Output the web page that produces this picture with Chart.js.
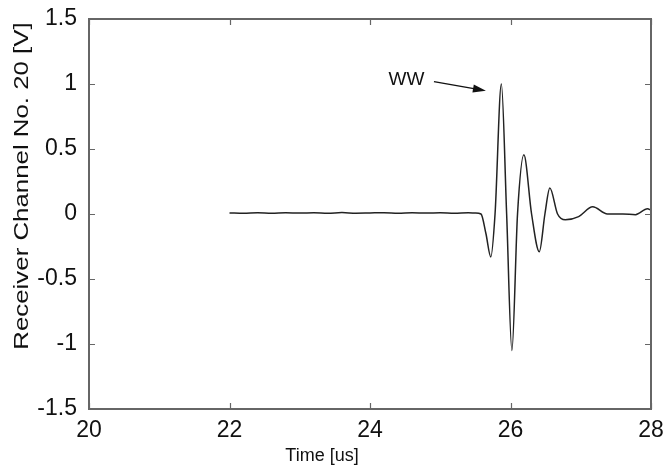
<!DOCTYPE html>
<html>
<head>
<meta charset="utf-8">
<script src="https://cdn.jsdelivr.net/npm/chart.js@4.4.1/dist/chart.umd.min.js"></script>
<style>
  html, body { margin: 0; padding: 0; background: #fff; }
  #wrap { width: 672px; height: 475px; }
</style>
</head>
<body>
<div id="wrap"><canvas id="myChart" width="672" height="475"></canvas></div>
<script>
// time axis [us] and receiver signal [V]
const times = [22.0, 22.2, 22.4, 22.6, 22.8, 23.0, 23.2, 23.4, 23.6, 23.8,
               24.0, 24.2, 24.4, 24.6, 24.8, 25.0, 25.2, 25.4, 25.5, 25.58,
               25.65, 25.72, 25.78, 25.87, 25.945, 26.02, 26.1, 26.19, 26.3, 26.41,
               26.49, 26.56, 26.67, 26.78, 26.97, 27.17, 27.38, 27.6, 27.78, 27.95, 28.0];
const volts = [0.008, 0.005, 0.009, 0.006, 0.010, 0.007, 0.009, 0.005, 0.011, 0.006,
               0.008, 0.010, 0.006, 0.009, 0.007, 0.010, 0.006, 0.009, 0.008, 0.0,
               -0.15, -0.33, 0.0, 1.0, 0.0, -1.05, 0.0, 0.455, 0.0, -0.29,
               0.0, 0.2, 0.0, -0.045, -0.02, 0.055, 0.0, 0.0, -0.005, 0.04, 0.03];
const xTicks = [20, 22, 24, 26, 28];
const yTicks = [-1.5, -1, -0.5, 0, 0.5, 1, 1.5];
const xTitle = 'Time [us]';
const yTitle = 'Receiver Channel No. 20 [V]';

const FAMILY = 'Liberation Sans, Arial, sans-serif';
const tickFont = { family: FAMILY, size: 23, lineHeight: 1 };

// matlab style frame with inward ticks, axis titles and the WW arrow
const framePlugin = {
    id: 'frame',
    afterDraw(chart) {
        const ctx = chart.ctx;
        const a = chart.chartArea;
        const xs = chart.scales.x, ys = chart.scales.y;
        ctx.save();
        ctx.strokeStyle = '#666';
        ctx.lineWidth = 1.2;
        xTicks.forEach(t => {
            const px = Math.round(xs.getPixelForValue(t)) + 0.5;
            ctx.beginPath();
            ctx.moveTo(px, a.bottom); ctx.lineTo(px, a.bottom - 6);
            ctx.moveTo(px, a.top); ctx.lineTo(px, a.top + 6);
            ctx.stroke();
        });
        yTicks.forEach(v => {
            const py = Math.round(ys.getPixelForValue(v)) + 0.5;
            ctx.beginPath();
            ctx.moveTo(a.left, py); ctx.lineTo(a.left + 6, py);
            ctx.moveTo(a.right, py); ctx.lineTo(a.right - 6, py);
            ctx.stroke();
        });
        ctx.lineWidth = 2;
        ctx.strokeRect(a.left, a.top, a.right - a.left, a.bottom - a.top);

        // axis titles (sit off-centre in the original)
        ctx.fillStyle = '#111';
        ctx.textAlign = 'center';
        ctx.textBaseline = 'alphabetic';
        ctx.font = '18px ' + FAMILY;
        ctx.fillText(xTitle, a.left + 233, a.bottom + 52);
        ctx.save();
        ctx.translate(a.left - 67, a.top + 167);
        ctx.rotate(-Math.PI / 2);
        ctx.scale(1.23, 1);
        ctx.font = '21px ' + FAMILY;
        ctx.textBaseline = 'middle';
        ctx.fillText(yTitle, 0, 0);
        ctx.restore();

        // annotation
        ctx.font = '19px ' + FAMILY;
        ctx.textBaseline = 'middle';
        ctx.fillText('WW', xs.getPixelForValue(24.52), ys.getPixelForValue(1.035));
        const x1 = xs.getPixelForValue(24.91), y1 = ys.getPixelForValue(1.018);
        const x2 = xs.getPixelForValue(25.65), y2 = ys.getPixelForValue(0.948);
        const ang = Math.atan2(y2 - y1, x2 - x1);
        ctx.strokeStyle = '#111';
        ctx.lineWidth = 1.3;
        ctx.beginPath();
        ctx.moveTo(x1, y1); ctx.lineTo(x2 - 8 * Math.cos(ang), y2 - 8 * Math.sin(ang));
        ctx.stroke();
        ctx.beginPath();
        ctx.moveTo(x2, y2);
        ctx.lineTo(x2 - 13 * Math.cos(ang) + 4 * Math.sin(ang), y2 - 13 * Math.sin(ang) - 4 * Math.cos(ang));
        ctx.lineTo(x2 - 13 * Math.cos(ang) - 4 * Math.sin(ang), y2 - 13 * Math.sin(ang) + 4 * Math.cos(ang));
        ctx.closePath();
        ctx.fill();
        ctx.restore();
    }
};

const ctx = document.getElementById('myChart').getContext('2d');
const myChart = new Chart(ctx, {
    type: 'line',
    data: {
        datasets: [{
            data: times.map((t, i) => ({ x: t, y: volts[i] })),
            borderColor: '#222',
            borderWidth: 1.5,
            pointRadius: 0,
            cubicInterpolationMode: 'monotone',
            fill: false
        }]
    },
    options: {
        responsive: false,
        animation: false,
        layout: { padding: { top: 19, right: 21, left: 0, bottom: 0 } },
        plugins: {
            legend: { display: false },
            tooltip: { enabled: false }
        },
        scales: {
            x: {
                type: 'linear',
                min: 20, max: 28,
                afterBuildTicks: s => { s.ticks = xTicks.map(v => ({ value: v })); },
                afterFit: s => { s.height = 66; },
                grid: { display: false },
                border: { display: false },
                ticks: { color: '#111', font: tickFont, padding: 2, maxRotation: 0,
                         callback: v => String(v) }
            },
            y: {
                min: -1.5, max: 1.5,
                afterBuildTicks: s => { s.ticks = yTicks.map(v => ({ value: v })); },
                afterFit: s => { s.width = 89; },
                grid: { display: false },
                border: { display: false },
                ticks: { color: '#111', font: tickFont, padding: 4,
                         callback: v => String(v) }
            }
        }
    },
    plugins: [framePlugin]
});
</script>
</body>
</html>
